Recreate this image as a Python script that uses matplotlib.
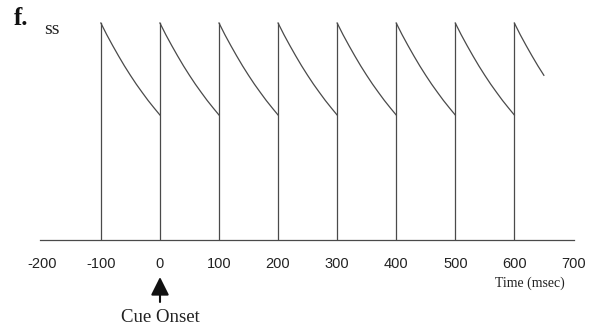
import numpy as np
import matplotlib.pyplot as plt

# onsets of each pulse (ms) and the time the trace stops
onsets = [-100, 0, 100, 200, 300, 400, 500, 600]
t_end = 650

# shape of one decay cycle, read every 10 ms after the onset
decay_t = [0, 10, 20, 30, 40, 50, 60, 70, 80, 90, 100]
decay_y = [1.0, 0.946, 0.896, 0.848, 0.802, 0.759, 0.718, 0.680, 0.643, 0.609, 0.576]

xticks = [-200, -100, 0, 100, 200, 300, 400, 500, 600, 700]

W, H = 597, 333
fig = plt.figure(figsize=(W / 100, H / 100), dpi=100)
ax = fig.add_axes([40 / W, (H - 240) / H, 534 / W, 220 / H])

col = '#4a4a4a'
dt = np.array(decay_t)
dy = np.array(decay_y)
for i, t0 in enumerate(onsets):
    stop = onsets[i + 1] if i + 1 < len(onsets) else t_end
    m = dt <= stop - t0
    ax.plot([t0, t0], [0, decay_y[0]], color=col, lw=0.9)
    ax.plot(t0 + dt[m], dy[m], color=col, lw=0.9)

ax.set_xlim(-203, 701)
ax.set_ylim(0, 220 / 217)
for s in ['top', 'right', 'left']:
    ax.spines[s].set_visible(False)
ax.spines['bottom'].set_color(col)
ax.spines['bottom'].set_linewidth(0.9)
ax.set_yticks([])
ax.set_xticks(xticks)
ax.set_xticklabels([str(v) for v in xticks], family='Liberation Sans', fontsize=10.5)
ax.tick_params(axis='x', length=0, pad=12, colors='#222222')

fig.text(530 / W, 1 - 283 / H, 'Time (msec)', family='Liberation Serif',
         fontsize=10, ha='center', va='center', color='#222222')
fig.text(14 / W, 1 - 25 / H, 'f.', family='Liberation Serif', fontweight='bold',
         fontsize=18, ha='left', va='baseline', color='#111111')
fig.text(44 / W, 1 - 34 / H, 'ss', family='Liberation Serif',
         fontsize=14, ha='left', va='baseline', color='#222222')

fig.text(160 / W, 1 - 317 / H, 'Cue Onset', family='Liberation Serif',
         fontsize=13.5, ha='center', va='center', color='#222222')
ax.annotate('', xy=(160 / W, 1 - 277 / H), xycoords='figure fraction',
            xytext=(160 / W, 1 - 302 / H), textcoords='figure fraction',
            arrowprops=dict(arrowstyle='-|>,head_length=1.1,head_width=0.55',
                            color='#111111', lw=1.5, shrinkA=0, shrinkB=0))

fig.savefig('out.png', dpi=100, facecolor='white')
